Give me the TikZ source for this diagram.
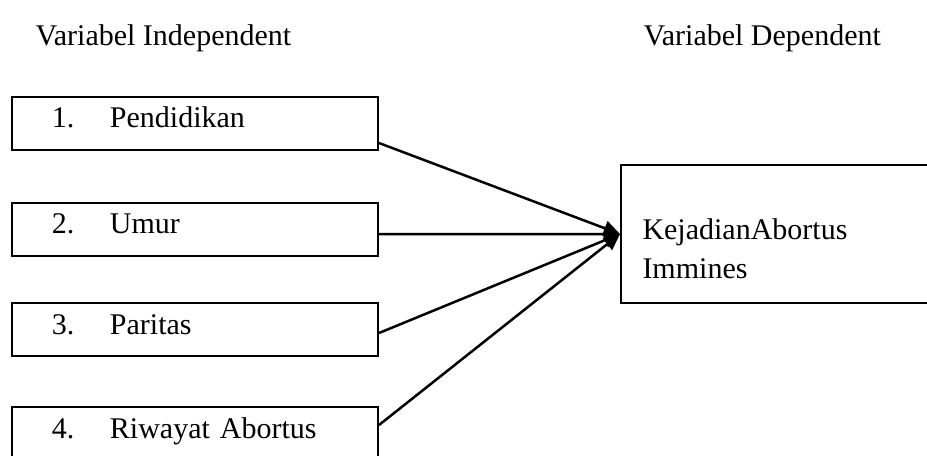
\documentclass[tikz,border=0pt]{standalone}
\usepackage{fontspec}
\setmainfont{Liberation Serif}
\usetikzlibrary{arrows.meta}

\tikzset{
  varbox/.style={draw, line width=0.8pt, rectangle, inner ysep=0pt, inner xsep=16pt,
    text width=114.4pt, minimum height=21.2pt, align=left, text height=7.8pt, text depth=4.2pt},
  depbox/.style={draw, line width=0.8pt, rectangle, minimum width=125.6pt, minimum height=55.2pt, inner sep=0pt},
  link/.style={line width=1pt, -{Triangle[length=6.5pt,width=6pt]}}
}

\begin{document}
\begin{tikzpicture}[x=0.4pt,y=-0.4pt,font=\fontsize{12pt}{15.6pt}\selectfont]
\useasboundingbox (0,0) rectangle (927,455);

%titles
\node [anchor=base west, inner sep=0pt] (indep) at (35,45) {Variabel Independent};
\node [anchor=base west, inner sep=0pt] (dept) at (643,45) {Variabel Dependent};

%independent variables
\node [varbox] (pend) at (195,123) {\makebox[23.2pt][l]{1.}Pendidikan};
\node [varbox] (umur) at (195,229) {\makebox[23.2pt][l]{2.}Umur};
\node [varbox] (par) at (195,329.5) {\makebox[23.2pt][l]{3.}Paritas};
\node [varbox] (riw) at (195,433.5) {\makebox[23.2pt][l]{4.}Riwayat Abortus};

%dependent variable
\node [depbox] (kej) at (778,234) {};
\node [anchor=base west, inner sep=0pt, align=left] (kejtext) at (642,278) {KejadianAbortus\\Immines};

%arrows
\draw [link] ([yshift=-8pt]pend.east) -- (kej.west);
\draw [link] ([yshift=-2pt]umur.east) -- (kej.west);
\draw [link] ([yshift=-1.4pt]par.east) -- (kej.west);
\draw [link] ([yshift=3.4pt]riw.east) -- (kej.west);

\end{tikzpicture}
\end{document}
